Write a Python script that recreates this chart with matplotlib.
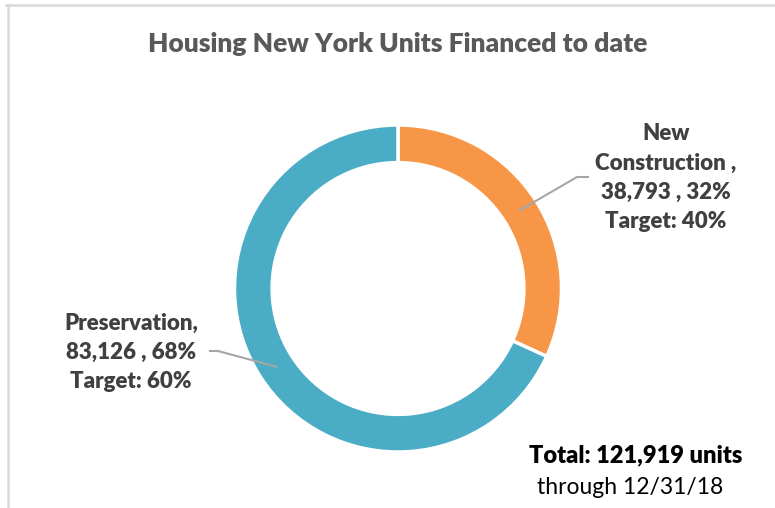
import matplotlib.pyplot as plt
import numpy as np
from matplotlib.lines import Line2D

categories = ['New Construction', 'Preservation']
units = [38793, 83126]
targets = ['40%', '60%']
colors = ['#F79646', '#4BACC6']
title = 'Housing New York Units Financed to date'
total_note = 'through 12/31/18'

plt.rcParams['font.family'] = ['Lato', 'DejaVu Sans']

W, H = 775, 508
fig = plt.figure(figsize=(W / 100, H / 100), dpi=100)
fig.patch.set_facecolor('white')

# donut, centre (398, 288.5) px, radius 163.5 px
cx, cy, R = 398, 288.5, 163.5
ax = fig.add_axes([(cx - R) / W, (H - cy - R) / H, 2 * R / W, 2 * R / H])
wedges, _ = ax.pie(units, colors=colors, startangle=90, counterclock=False,
                   radius=1.0, wedgeprops=dict(width=0.23, edgecolor='white', linewidth=2.5))
ax.set_xlim(-1, 1)
ax.set_ylim(-1, 1)
ax.set_aspect('equal')
ax.axis('off')

total = sum(units)
shares = [u / total for u in units]


def px2data(px, py):
    return (px - cx) / R, (cy - py) / R


# leader lines from middle of ring at each wedge's mid angle
elbows = [[(577, 177), (588, 177)], [(218, 351), (210, 351)]]
for w, pts in zip(wedges, elbows):
    ang = np.deg2rad((w.theta1 + w.theta2) / 2)
    xs = [0.885 * np.cos(ang)] + [px2data(*p)[0] for p in pts]
    ys = [0.885 * np.sin(ang)] + [px2data(*p)[1] for p in pts]
    ax.plot(xs, ys, color='#A6A6A6', lw=1.5, clip_on=False)

lab_color = '#404040'
fs = 16
wt = 'heavy'
nc_lines = ['New', 'Construction ,', f'{units[0]:,} , {shares[0]:.0%}', f'Target: {targets[0]}']
for i, t in enumerate(nc_lines):
    fig.text(666 / W, 1 - (134 + i * 29.3) / H, t, ha='center', va='center',
             fontsize=fs, fontweight=wt, color=lab_color)
pr_lines = ['Preservation,', f'{units[1]:,} , {shares[1]:.0%}', f'Target: {targets[1]}']
for i, t in enumerate(pr_lines):
    fig.text(131 / W, 1 - (323 + i * 29.3) / H, t, ha='center', va='center',
             fontsize=fs, fontweight=wt, color=lab_color)

fig.text(398 / W, 1 - 44 / H, title, ha='center', va='center',
         fontsize=19, fontweight=wt, color='#595959')

fig.text(636 / W, 1 - 455 / H, f'Total: {total:,} units', ha='center', va='center',
         fontsize=17, fontweight=wt, color='black')
fig.text(630 / W, 1 - 488 / H, total_note, ha='center', va='center',
         fontsize=16.5, color='black')

# chart frame (top and left edges visible)
fig.add_artist(Line2D([6 / W, 1], [1 - 5 / H, 1 - 5 / H], color='#D9D9D9', lw=1.8))
fig.add_artist(Line2D([8 / W, 8 / W], [0, 1 - 5 / H], color='#D9D9D9', lw=1.8))

fig.savefig('out.png', dpi=100)
